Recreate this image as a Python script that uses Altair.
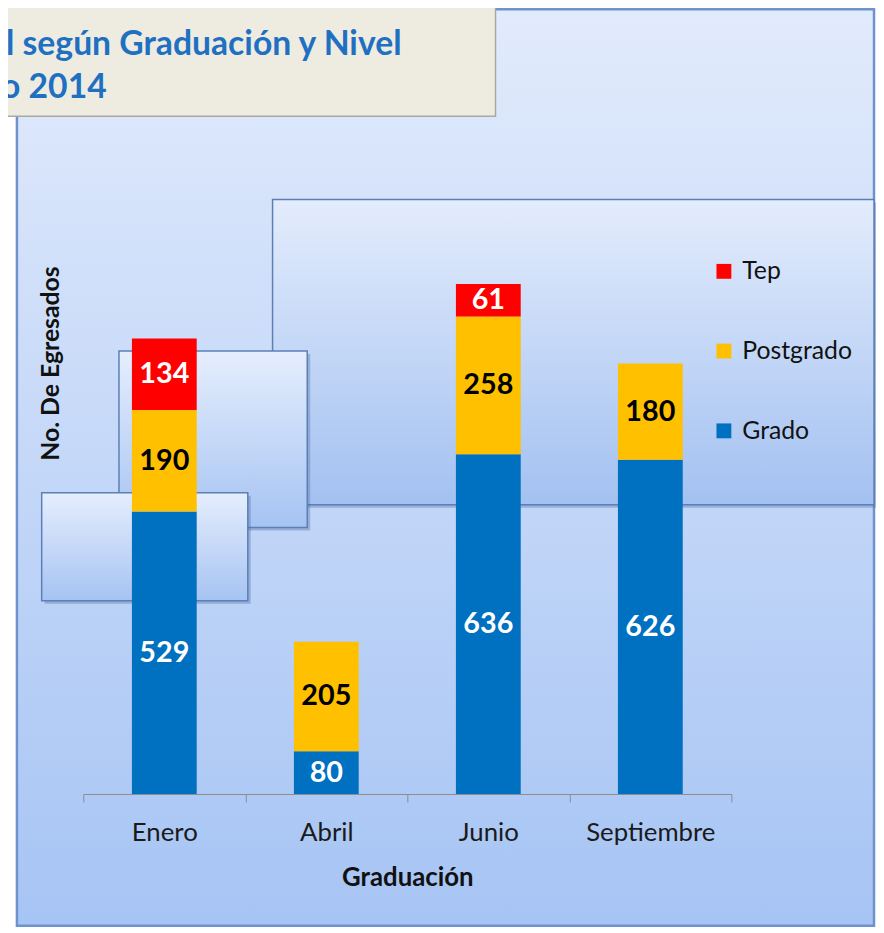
import altair as alt
import pandas as pd

# ---- data ----
meses = ["Enero", "Abril", "Junio", "Septiembre"]
grado = [529, 80, 636, 626]
postgrado = [190, 205, 258, 180]
tep = [134, None, 61, None]
niveles = ["Tep", "Postgrado", "Grado"]
colores = ["#FF0000", "#FFC000", "#0070C0"]
titulo = ["l según Graduación y Nivel", "o 2014"]
eje_x = "Graduación"
eje_y = "No. De Egresados"

rows = []
for i, m in enumerate(meses):
    for nivel, vals, o in [("Grado", grado, 0), ("Postgrado", postgrado, 1), ("Tep", tep, 2)]:
        if vals[i] is not None:
            rows.append({"mes": m, "nivel": nivel, "valor": vals[i], "orden": o})
df = pd.DataFrame(rows)
one = pd.DataFrame({"k": [0]})


def grad(top, bottom):
    return alt.Gradient(
        gradient="linear", x1=0, y1=0, x2=0, y2=1,
        stops=[alt.GradientStop(offset=0, color=top), alt.GradientStop(offset=1, color=bottom)],
    )


def box(x1, x2, y1, y2, fill, stroke="#5C7FB8", sw=1.5):
    return alt.Chart(one).mark_rect(fill=fill, stroke=stroke, strokeWidth=sw).encode(
        x=alt.value(x1), x2=alt.value(x2), y=alt.value(y1), y2=alt.value(y2)
    )


def shadow(x1, x2, y1, y2):
    return alt.Chart(one).mark_rect(fill="#4A6A9C", opacity=0.35).encode(
        x=alt.value(x1 + 3), x2=alt.value(x2 + 3), y=alt.value(y1 + 3), y2=alt.value(y2 + 3)
    )


panel = box(-67, 798, -253, 672, grad("#E2EBFC", "#A6C4F4"), stroke="#6E93CC", sw=2.5)
big_s = shadow(191, 798, -61, 247)
big = box(191, 798, -61, 247, grad("#E3ECFC", "#A3C1F1"))
med_s = shadow(36, 226, 92, 270)
med = box(36, 226, 92, 270, grad("#E5EEFD", "#A6C3F2"))
small_s = shadow(-42, 166, 235, 344)
small = box(-42, 166, 235, 344, grad("#E5EEFD", "#A6C3F2"))
tbox = box(-95, 416, -264, -145, "#EEECE1", stroke="#A9A9A2", sw=1.5)

t1 = alt.Chart(one).mark_text(
    text=titulo[0], align="left", baseline="alphabetic", font="Lato",
    fontSize=34, fontWeight="bold", color="#1F70C1"
).encode(x=alt.value(-78), y=alt.value(-207))
t2 = alt.Chart(one).mark_text(
    text=titulo[1], align="left", baseline="alphabetic", font="Lato",
    fontSize=34, fontWeight="bold", color="#1F70C1"
).encode(x=alt.value(-83), y=alt.value(-163))

base = alt.Chart(df).transform_stack(
    stack="valor", groupby=["mes"], as_=["y0", "y1"],
    sort=[alt.SortField("orden", order="ascending")]
).transform_calculate(mid="(datum.y0 + datum.y1) / 2")

xenc = alt.X(
    "mes:N", sort=meses,
    scale=alt.Scale(paddingInner=0, paddingOuter=0),
    axis=alt.Axis(
        title=eje_x, labelAngle=0, tickBand="extent", grid=False, zindex=2,
        domainColor="#8C8C8C", tickColor="#8C8C8C", tickSize=8,
        labelFont="Lato", labelFontSize=26, labelColor="#1A1A1A", labelPadding=18,
        titleFont="Lato", titleFontSize=26, titleFontWeight="bold", titleColor="#111111",
        titleY=92, titleBaseline="alphabetic",
    ),
)

bars = base.mark_bar(width=alt.RelativeBandSize(0.4)).encode(
    x=xenc,
    y=alt.Y(
        "y0:Q", scale=alt.Scale(domain=[0, 1000]),
        axis=alt.Axis(
            title=eje_y, labels=False, ticks=False, domain=False, grid=False, zindex=2,
            titleFont="Lato", titleFontSize=25, titleFontWeight="bold", titleColor="#111111",
            titleAngle=270, titleX=-25, titleY=104, titleAlign="center", titleBaseline="alphabetic",
        ),
    ),
    y2="y1:Q",
    color=alt.Color(
        "nivel:N", scale=alt.Scale(domain=niveles, range=colores),
        legend=alt.Legend(
            orient="none", legendX=634, legendY=-1, title=None,
            symbolType="square", symbolSize=225, symbolStrokeWidth=0,
            labelFont="Lato", labelFontSize=25, labelColor="#111111",
            labelOffset=6, rowPadding=54.5, padding=0, zindex=2,
        ),
    ),
)

labels = base.mark_text(font="Lato", fontSize=29, fontWeight="bold", baseline="middle").encode(
    x=alt.X("mes:N", sort=meses),
    y="mid:Q",
    text="valor:Q",
    color=alt.condition(alt.datum.nivel == "Postgrado", alt.value("#000000"), alt.value("#FFFFFF")),
)

chart = alt.layer(
    panel, big_s, big, med_s, med, small_s, small, tbox, t1, t2, bars, labels
).properties(
    width=654, height=539,
    padding={"left": 76, "top": 250, "right": 146, "bottom": 136},
    autosize=alt.AutoSizeParams(type="none"),
).configure_view(strokeWidth=0).configure(background="white")

chart.save("out.html", embed_options={"renderer": "svg", "actions": False})
